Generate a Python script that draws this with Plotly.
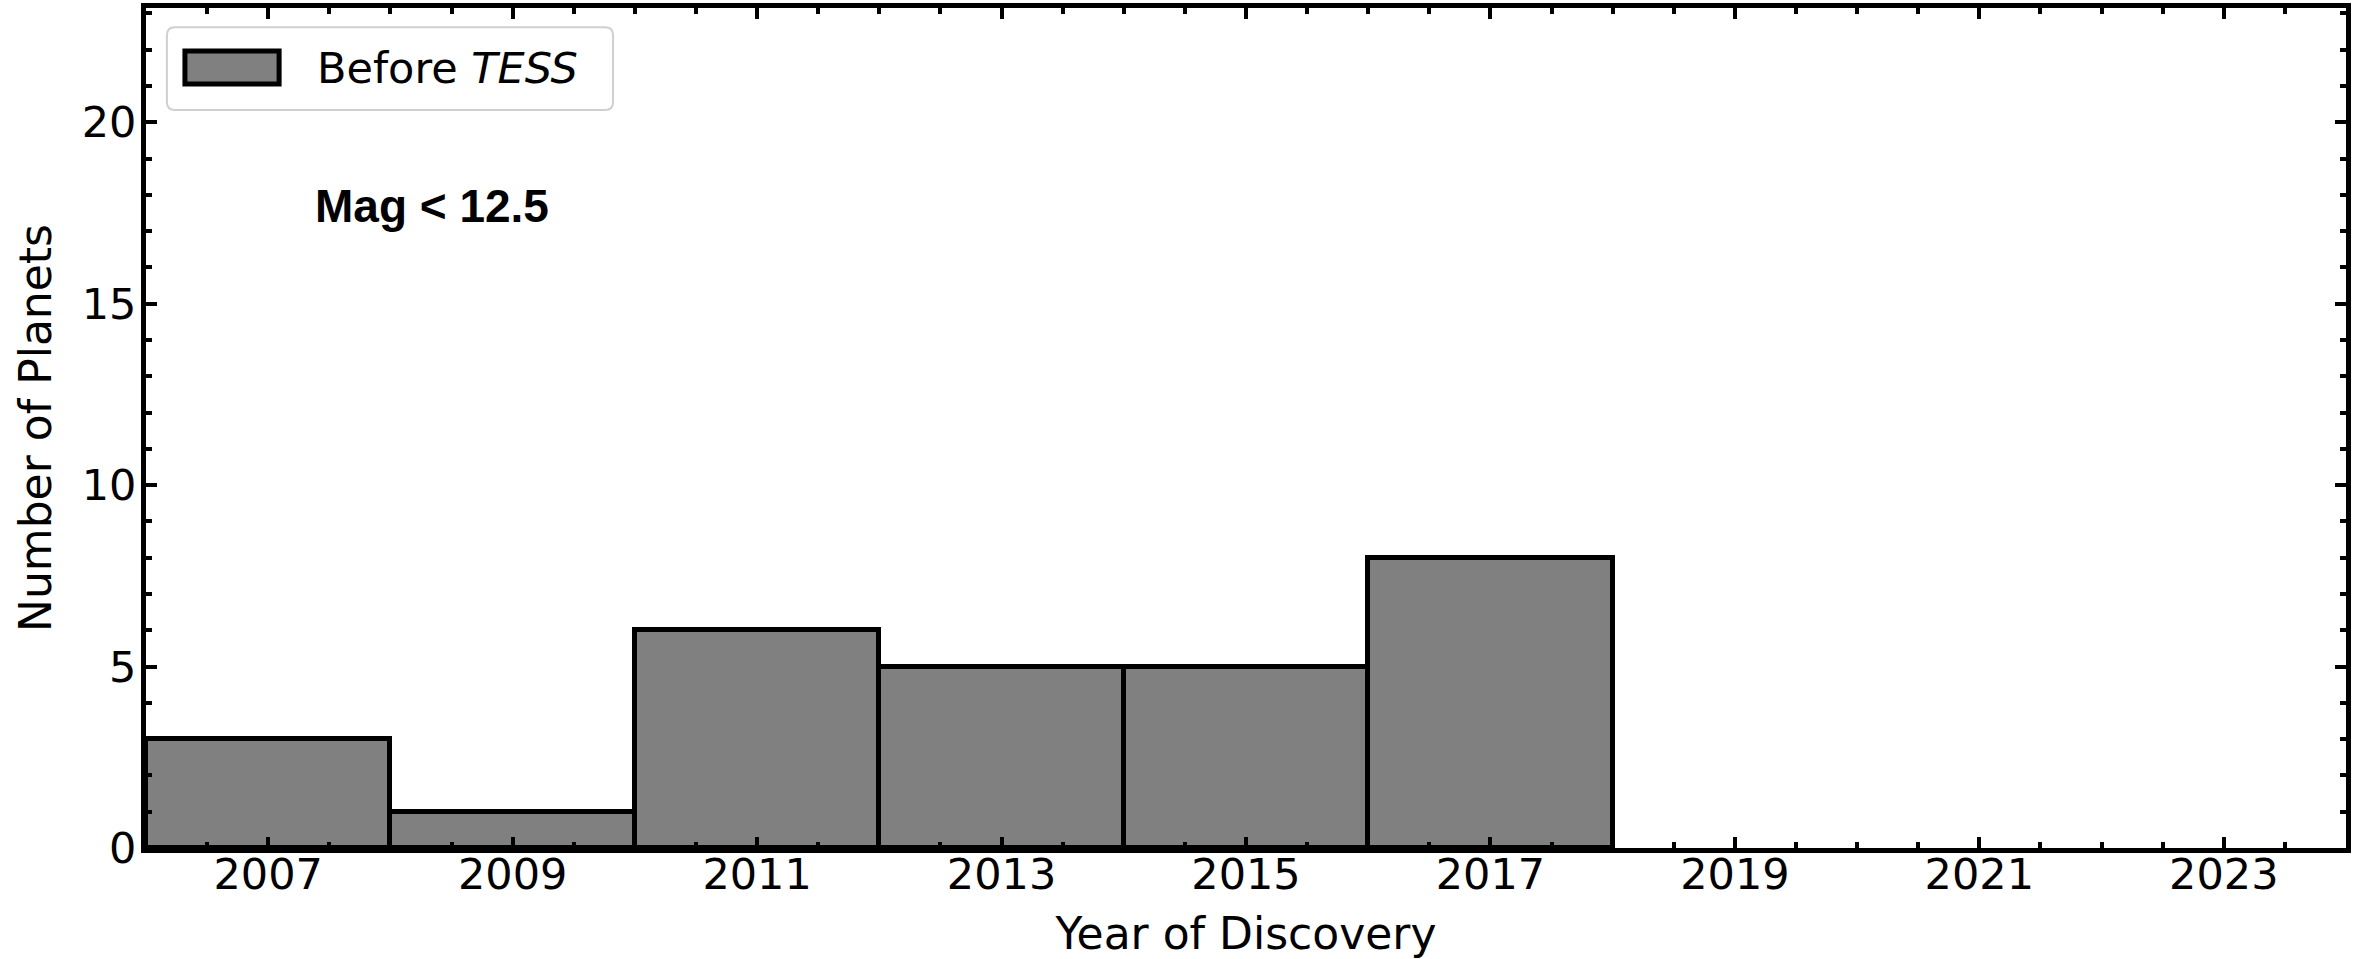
import plotly.graph_objects as go

# Histogram of discoveries in two-year bins
bin_starts = [2006, 2008, 2010, 2012, 2014, 2016]
bin_width = 2
counts = [3, 1, 6, 5, 5, 8]

x_range = [2006, 2024]
y_range = [0, 23.15]
x_tick_vals = [2007, 2009, 2011, 2013, 2015, 2017, 2019, 2021, 2023]
y_tick_vals = [0, 5, 10, 15, 20]

W, H = 2361, 959
M = dict(l=146, r=15, t=8, b=111)
FONT = "DejaVu Sans"

fig = go.Figure()
fig.add_trace(go.Bar(
    x=[s + bin_width / 2 for s in bin_starts],
    y=counts,
    width=[bin_width] * len(counts),
    marker=dict(color="#808080", line=dict(color="black", width=5)),
    name="Before TESS",
    showlegend=False,
))

axis_common = dict(
    showline=True, linecolor="black", linewidth=5, mirror="allticks",
    ticks="inside", ticklen=11, tickwidth=4, tickcolor="black",
    showgrid=False, zeroline=False, automargin=False,
    tickfont=dict(family=FONT, size=43, color="black"),
)

fig.update_xaxes(
    range=x_range, tickmode="array", tickvals=x_tick_vals,
    ticktext=[str(v) for v in x_tick_vals],
    minor=dict(ticks="inside", dtick=0.5, tick0=2006, ticklen=6, tickwidth=4,
               tickcolor="black", showgrid=False),
    title=dict(text="Year of Discovery", font=dict(family=FONT, size=44, color="black"),
               standoff=34),
    ticklabelstandoff=-16,
    **axis_common,
)
fig.update_yaxes(
    range=y_range, tickmode="array", tickvals=y_tick_vals,
    ticktext=[str(v) for v in y_tick_vals],
    minor=dict(ticks="inside", dtick=1, tick0=0, ticklen=6, tickwidth=4,
               tickcolor="black", showgrid=False),
    title=dict(text="Number of Planets", font=dict(family=FONT, size=44, color="black"),
               standoff=18),
    ticklabelstandoff=-4,
    **axis_common,
)

# Legend box drawn in paper coordinates so the swatch can be large
pw = W - M["l"] - M["r"]
ph = H - M["t"] - M["b"]


def rounded_rect(x0, y0, x1, y1, r_px):
    rx, ry = r_px / pw, r_px / ph
    return (f"M {x0+rx},{y0} L {x1-rx},{y0} Q {x1},{y0} {x1},{y0+ry} "
            f"L {x1},{y1-ry} Q {x1},{y1} {x1-rx},{y1} L {x0+rx},{y1} "
            f"Q {x0},{y1} {x0},{y1-ry} L {x0},{y0+ry} Q {x0},{y0} {x0+rx},{y0} Z")


fig.add_shape(type="path", xref="paper", yref="paper",
              path=rounded_rect(0.0095, 0.8786, 0.2123, 0.977, 8),
              fillcolor="rgba(255,255,255,0.8)", line=dict(color="#d0d0d0", width=2))
fig.add_shape(type="rect", xref="paper", yref="paper",
              x0=0.0177, x1=0.0605, y0=0.9095, y1=0.9488,
              fillcolor="#808080", line=dict(color="black", width=5))
fig.add_annotation(xref="paper", yref="paper", x=0.0768, y=0.9286,
                   xanchor="left", yanchor="middle", showarrow=False,
                   text="Before <i>TESS</i>",
                   font=dict(family=FONT, size=43, color="black"))

fig.add_annotation(xref="paper", yref="paper", x=0.13, y=0.7643,
                   xanchor="center", yanchor="middle", showarrow=False,
                   text="<b>Mag < 12.5</b>",
                   font=dict(family="Liberation Sans", size=46, color="black"))

fig.update_layout(
    width=W, height=H, margin=M,
    paper_bgcolor="white", plot_bgcolor="white",
    bargap=0, showlegend=False,
)

fig.write_html("out.html")
